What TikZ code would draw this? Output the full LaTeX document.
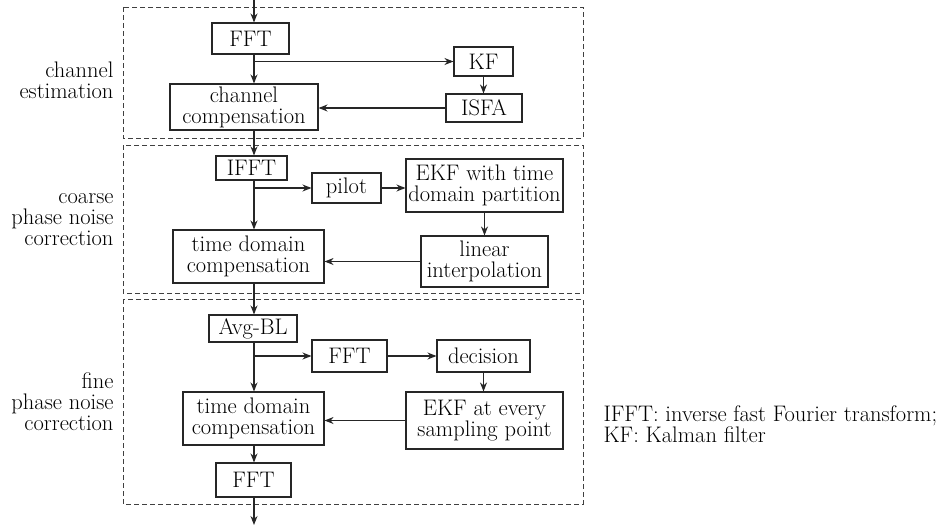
\documentclass[tikz,border=0pt]{standalone}
\usetikzlibrary{arrows.meta}

\begin{document}
\begin{tikzpicture}[x=1pt, y=-1pt,
    font=\fontsize{22.5}{21}\selectfont,
    blk/.style 2 args={draw=black!85, line width=1.1pt, align=center,
      inner sep=0pt, minimum width=#1, minimum height=#2},
    arr/.style={-{Stealth[length=9pt, width=7pt]}, draw=black!85, line width=1.1pt},
    frame/.style={draw=black!75, line width=0.9pt, dash pattern=on 5pt off 3pt},
  ]
  \useasboundingbox (0,0) rectangle (941,527);

  % Define coordinates first
  \coordinate (in) at (254,0);
  \coordinate (out) at (254,525);

  % Draw dashed frames
  \draw[frame] (123,7) rectangle (583,138);
  \draw[frame] (123,145) rectangle (583,293);
  \draw[frame] (123,299) rectangle (583,504);

  % Stage labels
  \node[anchor=east, align=right] (lblA) at (117,80) {channel\\estimation};
  \node[anchor=east, align=right] (lblB) at (117,220) {coarse\\phase noise\\correction};
  \node[anchor=east, align=right] (lblC) at (117,402) {fine\\phase noise\\correction};

  % Channel estimation blocks
  \node[blk={77pt}{31pt}] (fftA) at (250.5,38.5) {FFT};
  \node[blk={59pt}{29pt}] (kf) at (483.5,61.5) {KF};
  \node[blk={76pt}{28pt}] (isfa) at (484,108) {ISFA};
  \node[blk={148pt}{46pt}] (chcomp) at (244,107) {channel\\compensation};

  % Coarse phase noise blocks
  \node[blk={71pt}{24pt}] (ifft) at (251.5,168) {IFFT};
  \node[blk={69pt}{30pt}] (pilot) at (346.5,188) {pilot};
  \node[blk={157pt}{53pt}] (ekfA) at (484.5,185.5) {EKF with time\\domain partition};
  \node[blk={151pt}{53pt}] (tdcA) at (248.5,256.5) {time domain\\compensation};
  \node[blk={127pt}{51pt}] (linint) at (484.5,261.5) {linear\\interpolation};

  % Fine phase noise blocks
  \node[blk={88pt}{27pt}] (avg) at (253,328.5) {Avg-BL};
  \node[blk={75pt}{32pt}] (fftB) at (349.5,356) {FFT};
  \node[blk={93pt}{32pt}] (dec) at (483.5,356) {decision};
  \node[blk={157pt}{57pt}] (ekfB) at (484.5,420.5) {EKF at every\\sampling point};
  \node[blk={141pt}{53pt}] (tdcB) at (253.5,418.5) {time domain\\compensation};
  \node[blk={75pt}{34pt}] (fftC) at (253.5,480) {FFT};

  % Legend
  \node[anchor=west, align=left] (legend) at (600,424)
    {IFFT: inverse fast Fourier transform;\\KF: Kalman filter};

  % Main signal path
  \draw[arr] (in) -- (in |- fftA.north);
  \draw[arr] (fftA.south -| in) -- (chcomp.north -| in);
  \draw[arr] (chcomp.south -| in) -- (ifft.north -| in);
  \draw[arr] (ifft.south -| in) -- (tdcA.north -| in);
  \draw[arr] (tdcA.south -| in) -- (avg.north -| in);
  \draw[arr] (avg.south -| in) -- (tdcB.north -| in);
  \draw[arr] (tdcB.south -| in) -- (fftC.north -| in);
  \draw[arr] (fftC.south -| in) -- (out);

  % Side branches
  \draw[arr] (in |- kf.west) -- (kf.west);
  \draw[arr] (kf.south) -- (kf.south |- isfa.north);
  \draw[arr] (isfa.west) -- (isfa.west -| chcomp.east);

  \draw[arr] (in |- pilot.west) -- (pilot.west);
  \draw[arr] (pilot.east) -- (pilot.east -| ekfA.west);
  \draw[arr] (ekfA.south) -- (ekfA.south |- linint.north);
  \draw[arr] (linint.west) -- (linint.west -| tdcA.east);

  \draw[arr] (in |- fftB.west) -- (fftB.west);
  \draw[arr] (fftB.east) -- (dec.west);
  \draw[arr] (dec.south) -- (dec.south |- ekfB.north);
  \draw[arr] (ekfB.west) -- (ekfB.west -| tdcB.east);
\end{tikzpicture}
\end{document}
